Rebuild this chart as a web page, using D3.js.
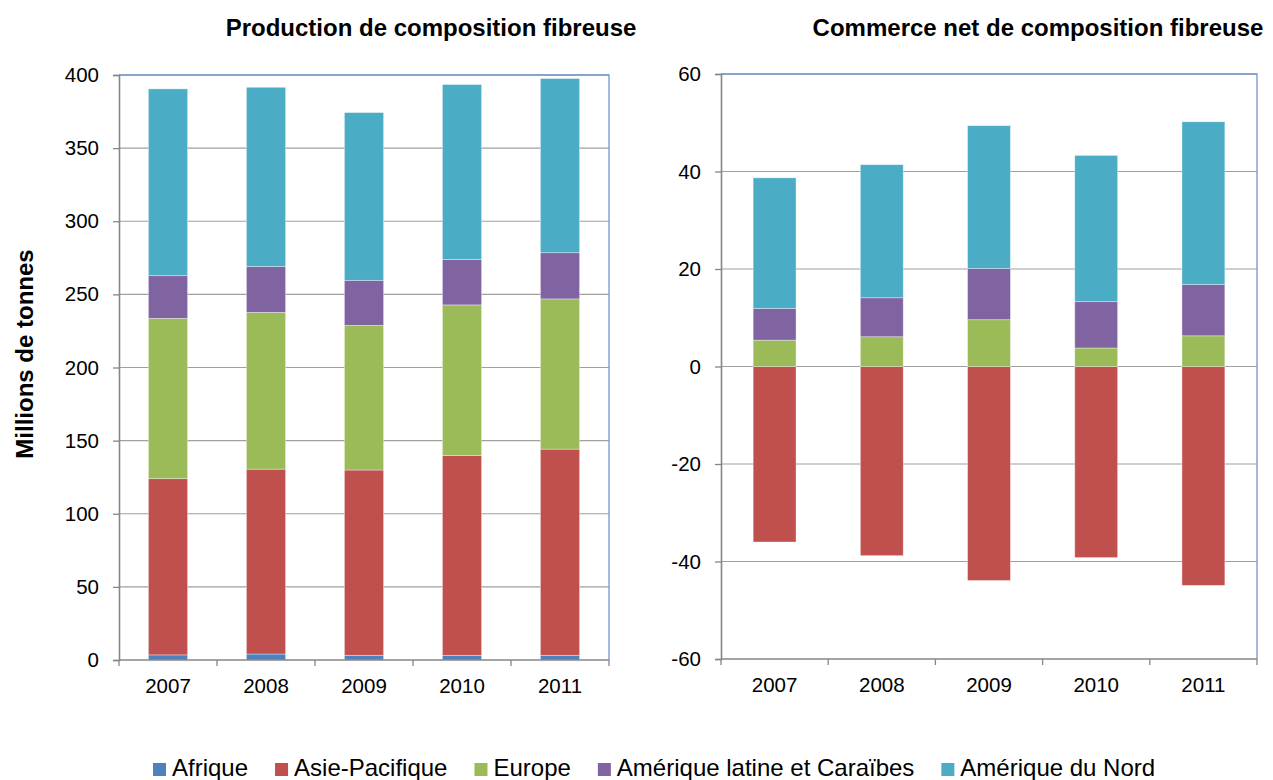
<!DOCTYPE html>
<html>
<head>
<meta charset="utf-8">
<script src="https://cdn.jsdelivr.net/npm/d3@7"></script>
<style>
  html, body { margin: 0; padding: 0; background: #fff; }
  svg { display: block; font-family: Arial, "Liberation Sans", sans-serif; }
  .tick-label { font-size: 20.5px; fill: #000; }
  .title { font-size: 24px; font-weight: bold; fill: #000; }
  .legend-label { font-size: 24px; fill: #000; }
</style>
</head>
<body>
<svg id="chart" width="1273" height="780"></svg>
<script>
/* === Composition fibreuse : production et commerce net (D3 v7) === */

var YEARS = ['2007', '2008', '2009', '2010', '2011'];
var REGIONS = ['Afrique', 'Asie-Pacifique', 'Europe', 'Amérique latine et Caraïbes', 'Amérique du Nord'];
var REGION_COLORS = ['#4F81BD', '#C0504D', '#9BBB59', '#8064A2', '#4BACC6'];

// Production (millions de tonnes)
var PROD_AFRIQUE = [3.5, 4.1, 3.2, 3.2, 3.2];
var PROD_ASIE = [120.5, 126.4, 126.7, 136.7, 141.0];
var PROD_EUROPE = [109.6, 107.2, 98.9, 102.9, 102.7];
var PROD_AMLAT = [29.2, 31.3, 30.8, 31.1, 31.6];
var PROD_AMNORD = [127.7, 122.6, 114.7, 119.6, 119.1];

// Commerce net (millions de tonnes)
var NET_AFRIQUE = [0, 0, 0, 0, 0];
var NET_ASIE = [-36.0, -38.8, -43.9, -39.2, -44.9];
var NET_EUROPE = [5.4, 6.1, 9.6, 3.8, 6.3];
var NET_AMLAT = [6.5, 8.0, 10.5, 9.5, 10.5];
var NET_AMNORD = [26.8, 27.3, 29.3, 30.0, 33.4];

var PROD_TICKS = [0, 50, 100, 150, 200, 250, 300, 350, 400];
var NET_TICKS = [-60, -40, -20, 0, 20, 40, 60];

function buildRows(series) {
    return YEARS.map(function(y, i) {
        var row = { year: y };
        REGIONS.forEach(function(r, k) { row[r] = series[k][i]; });
        return row;
    });
}

var svg = d3.select('#chart');

function drawPanel(opts) {
    var x = d3.scaleBand().domain(YEARS).range([opts.left, opts.right]).paddingInner(0.6).paddingOuter(0.3);
    var y = d3.scaleLinear().domain(opts.domain).range([opts.bottom, opts.top]);
    var g = svg.append('g');

    // Gridlines
    g.selectAll('line.grid')
        .data(opts.ticks.filter(function(t) { return t !== opts.domain[0]; }))
        .join('line')
        .attr('x1', opts.left).attr('x2', opts.right)
        .attr('y1', function(d) { return y(d); }).attr('y2', function(d) { return y(d); })
        .attr('stroke', '#a0a0a0').attr('stroke-width', 1.2);

    // Stacked bars
    var rows = buildRows(opts.series);
    var stacked = d3.stack().keys(REGIONS).offset(d3.stackOffsetDiverging)(rows);
    g.selectAll('g.series')
        .data(stacked)
        .join('g')
        .attr('fill', function(d, i) { return REGION_COLORS[i]; })
        .selectAll('rect')
        .data(function(d) { return d; })
        .join('rect')
        .attr('x', function(d) { return x(d.data.year); })
        .attr('width', x.bandwidth())
        .attr('y', function(d) { return y(Math.max(d[0], d[1])); })
        .attr('height', function(d) { return Math.abs(y(d[0]) - y(d[1])); })
        .attr('stroke', '#ffffff').attr('stroke-opacity', 0.45).attr('stroke-width', 0.8);

    // Plot area border (top / right)
    g.append('path')
        .attr('d', 'M' + opts.left + ',' + opts.top + 'H' + opts.right + 'V' + opts.bottom)
        .attr('fill', 'none').attr('stroke', '#7196CC').attr('stroke-width', 1.3);

    // Y axis
    var yAxis = g.append('g').attr('transform', 'translate(' + opts.left + ',0)')
        .call(d3.axisLeft(y).tickValues(opts.ticks).tickSize(6).tickPadding(14)
            .tickFormat(function(d) { return String(d); }));
    yAxis.select('.domain').attr('stroke', '#868686').attr('stroke-width', 1.6);
    yAxis.selectAll('.tick line').attr('stroke', '#868686').attr('stroke-width', 1.3);
    yAxis.selectAll('.tick text').attr('class', 'tick-label').attr('font-family', null).attr('font-size', null);

    // X axis
    var bandStep = (opts.right - opts.left) / YEARS.length;
    var xAxis = g.append('g').attr('transform', 'translate(0,' + opts.bottom + ')');
    xAxis.append('line').attr('x1', opts.left).attr('x2', opts.right)
        .attr('stroke', '#868686').attr('stroke-width', 1.6);
    xAxis.selectAll('line.xtick')
        .data(d3.range(YEARS.length + 1))
        .join('line')
        .attr('x1', function(i) { return opts.left + i * bandStep; })
        .attr('x2', function(i) { return opts.left + i * bandStep; })
        .attr('y1', 0).attr('y2', 6)
        .attr('stroke', '#868686').attr('stroke-width', 1.3);
    xAxis.selectAll('text')
        .data(YEARS)
        .join('text')
        .attr('class', 'tick-label')
        .attr('text-anchor', 'middle')
        .attr('x', function(d) { return x(d) + x.bandwidth() / 2; })
        .attr('y', 33)
        .text(function(d) { return d; });

    // Title
    svg.append('text').attr('class', 'title')
        .attr('text-anchor', 'middle')
        .attr('x', opts.titleX).attr('y', 36)
        .text(opts.title);
}

drawPanel({
    left: 119, right: 609, top: 75, bottom: 660,
    domain: [0, 400], ticks: PROD_TICKS,
    series: [PROD_AFRIQUE, PROD_ASIE, PROD_EUROPE, PROD_AMLAT, PROD_AMNORD],
    title: 'Production de composition fibreuse', titleX: 431
});

drawPanel({
    left: 721, right: 1257, top: 74, bottom: 659,
    domain: [-60, 60], ticks: NET_TICKS,
    series: [NET_AFRIQUE, NET_ASIE, NET_EUROPE, NET_AMLAT, NET_AMNORD],
    title: 'Commerce net de composition fibreuse', titleX: 1038
});

// Y axis label
svg.append('text').attr('class', 'title')
    .attr('text-anchor', 'middle')
    .attr('transform', 'translate(33,354) rotate(-90)')
    .text('Millions de tonnes');

// Legend
var legend = svg.append('g');
var lx = 153;
REGIONS.forEach(function(r, i) {
    legend.append('rect')
        .attr('x', lx).attr('y', 763).attr('width', 13).attr('height', 13)
        .attr('fill', REGION_COLORS[i]);
    var t = legend.append('text').attr('class', 'legend-label')
        .attr('x', lx + 19).attr('y', 776)
        .text(r);
    lx += 19 + t.node().getComputedTextLength() + 27;
});
</script>
</body>
</html>
